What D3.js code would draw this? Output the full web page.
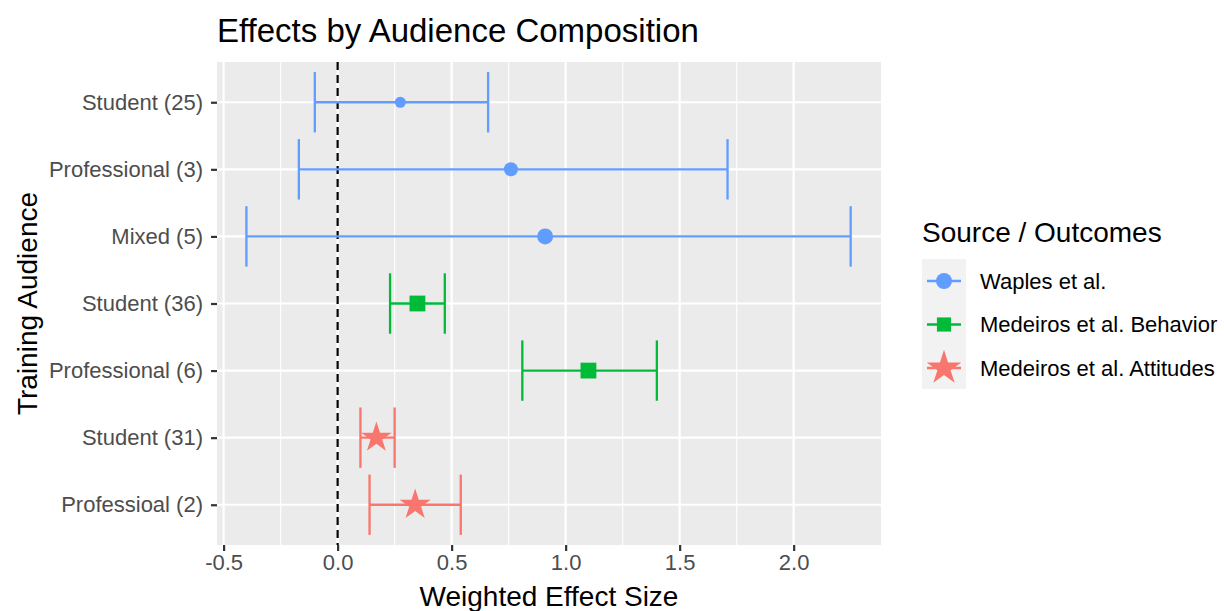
<!DOCTYPE html>
<html>
<head>
<meta charset="utf-8">
<script src="https://cdn.jsdelivr.net/npm/d3@7"></script>
<style>
  body { margin: 0; background: #fff; }
  text { font-family: "Liberation Sans", Arial, sans-serif; }
</style>
</head>
<body>
<div id="chart"></div>
<script>
// categories top to bottom
const audiences = ['Student (25)', 'Professional (3)', 'Mixed (5)', 'Student (36)', 'Professional (6)', 'Student (31)', 'Professioal (2)'];
const sources = ['Waples et al.', 'Waples et al.', 'Waples et al.', 'Medeiros et al. Behavior', 'Medeiros et al. Behavior', 'Medeiros et al. Attitudes', 'Medeiros et al. Attitudes'];
const estimates = [0.275, 0.76, 0.91, 0.35, 1.10, 0.17, 0.34];
const lower = [-0.10, -0.17, -0.40, 0.23, 0.81, 0.10, 0.14];
const upper = [0.66, 1.71, 2.25, 0.47, 1.40, 0.25, 0.54];
const xTicks = [-0.5, 0, 0.5, 1, 1.5, 2];
const legendNames = ['Waples et al.', 'Medeiros et al. Behavior', 'Medeiros et al. Attitudes'];

// styles
const colors = ['#619CFF', '#00BA38', '#F8766D'];
const symbols = [d3.symbolCircle, d3.symbolSquare, d3.symbolStar];
const markSize = [95, 155, 200, 250, 250, 290, 300];

const width = 1224, height = 611;
const margin = { top: 62, right: 343, bottom: 66, left: 217 };
const pw = width - margin.left - margin.right;
const ph = height - margin.top - margin.bottom;

const svg = d3.select('#chart').append('svg').attr('width', width).attr('height', height);
const chart = svg.append('g').attr('transform', `translate(${margin.left},${margin.top})`);

const x = d3.scaleLinear().domain([-0.529, 2.383]).range([0, pw]);
const y = d3.scalePoint().domain(audiences).range([0, ph]).padding(0.6);
const color = d3.scaleOrdinal().domain(legendNames).range(colors);
const shape = d3.scaleOrdinal().domain(legendNames).range(symbols);
const cap = y.step() * 0.9;

chart.append('rect').attr('width', pw).attr('height', ph).attr('fill', '#EBEBEB');

// minor grid
const minor = xTicks.slice(0, -1).map(t => t + 0.25);
chart.selectAll('.minor').data(minor).enter().append('line')
  .attr('x1', d => x(d)).attr('x2', d => x(d)).attr('y1', 0).attr('y2', ph)
  .attr('stroke', '#fff').attr('stroke-width', 1.1);
// major grid
chart.selectAll('.vmajor').data(xTicks).enter().append('line')
  .attr('x1', d => x(d)).attr('x2', d => x(d)).attr('y1', 0).attr('y2', ph)
  .attr('stroke', '#fff').attr('stroke-width', 2.2);
chart.selectAll('.hmajor').data(audiences).enter().append('line')
  .attr('x1', 0).attr('x2', pw).attr('y1', d => y(d)).attr('y2', d => y(d))
  .attr('stroke', '#fff').attr('stroke-width', 2.2);

// reference line at zero
chart.append('line')
  .attr('x1', x(0)).attr('x2', x(0)).attr('y1', 0).attr('y2', ph)
  .attr('stroke', '#000').attr('stroke-width', 2.2).attr('stroke-dasharray', '8,5');

const rows = audiences.map((a, i) => ({ a, src: sources[i], est: estimates[i], lo: lower[i], hi: upper[i], size: markSize[i] }));

const eb = chart.selectAll('.eb').data(rows).enter().append('g')
  .attr('stroke', d => color(d.src)).attr('stroke-width', 2.3);
eb.append('line').attr('x1', d => x(d.lo)).attr('x2', d => x(d.hi)).attr('y1', d => y(d.a)).attr('y2', d => y(d.a));
eb.append('line').attr('x1', d => x(d.lo)).attr('x2', d => x(d.lo)).attr('y1', d => y(d.a) - cap / 2).attr('y2', d => y(d.a) + cap / 2);
eb.append('line').attr('x1', d => x(d.hi)).attr('x2', d => x(d.hi)).attr('y1', d => y(d.a) - cap / 2).attr('y2', d => y(d.a) + cap / 2);

chart.selectAll('.pt').data(rows).enter().append('path')
  .attr('transform', d => `translate(${x(d.est)},${y(d.a)})`)
  .attr('d', d => d3.symbol().type(shape(d.src)).size(d.size)())
  .attr('fill', d => color(d.src));

// axes
const xAxis = chart.append('g').attr('transform', `translate(0,${ph})`)
  .call(d3.axisBottom(x).tickValues(xTicks).tickFormat(d => d.toFixed(1)).tickSize(6).tickPadding(3));
const yAxis = chart.append('g').call(d3.axisLeft(y).tickSize(6).tickPadding(8));
[xAxis, yAxis].forEach(g => {
  g.select('.domain').remove();
  g.selectAll('.tick line').attr('stroke', '#333').attr('stroke-width', 2.2);
  g.selectAll('.tick text').attr('fill', '#4D4D4D').style('font-size', '22px');
});

svg.append('text')
  .attr('x', margin.left).attr('y', 42)
  .style('font-size', '33px').attr('fill', '#000')
  .text('Effects by Audience Composition');

svg.append('text')
  .attr('x', margin.left + pw / 2).attr('y', 606)
  .attr('text-anchor', 'middle').style('font-size', '28px')
  .text('Weighted Effect Size');

svg.append('text')
  .attr('transform', `translate(37,${margin.top + ph / 2}) rotate(-90)`)
  .attr('text-anchor', 'middle').style('font-size', '28px')
  .text('Training Audience');

// legend
const legend = svg.append('g').attr('transform', 'translate(922,0)');
legend.append('text').attr('x', 0).attr('y', 242).style('font-size', '28px').text('Source / Outcomes');
legend.append('rect').attr('x', 0).attr('y', 259).attr('width', 44).attr('height', 130).attr('fill', '#F2F2F2');
const legendSize = [200, 200, 370];
const items = legend.selectAll('.item').data(legendNames).enter().append('g')
  .attr('transform', (d, i) => `translate(0,${281 + i * 43.5})`);
items.append('line').attr('x1', 5).attr('x2', 39).attr('stroke', d => color(d)).attr('stroke-width', 2.3);
items.append('path')
  .attr('transform', 'translate(22,0)')
  .attr('d', (d, i) => d3.symbol().type(shape(d)).size(legendSize[i])())
  .attr('fill', d => color(d));
items.append('text').attr('x', 58).attr('dy', '0.35em').style('font-size', '22px').text(d => d);
</script>
</body>
</html>
